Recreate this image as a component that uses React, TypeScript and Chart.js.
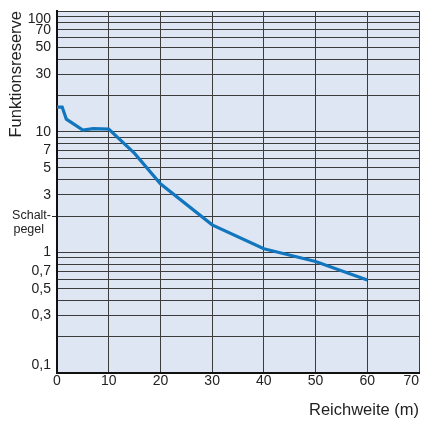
import React, { useEffect, useRef } from "react";
import { Chart, registerables } from "chart.js";

Chart.register(...registerables);

// Curve: Funktionsreserve over Reichweite (m)
const distanceM = [0, 1, 1.8, 5, 7, 10, 15, 20, 30, 40, 50, 60];
const functionReserve = [16, 16, 12.7, 10.3, 10.6, 10.5, 6.6, 3.7, 1.69, 1.07, 0.84, 0.59];

// x-axis ticks
const xTickValues = [0, 10, 20, 30, 40, 50, 60, 70];
const xTickLabels = ["0", "10", "20", "30", "40", "50", "60", "70    "];

// y-axis grid lines (log scale)
const yGridValues = [
  0.1, 0.2, 0.3, 0.4, 0.5, 0.6, 0.7, 0.8, 0.9,
  1, 2, 3, 4, 5, 6, 7, 8, 9,
  10, 20, 30, 40, 50, 60, 70, 80, 90, 100,
];

// y-axis labelled ticks
const yLabelValues = [100, 70, 50, 30, 10, 7, 5, 3, 2, 1, 0.7, 0.5, 0.3, 0.1];
const yLabelTexts: (string | string[])[] = [
  ["", "100"], "70", "50", "30", "10", "7", "5", "3",
  ["", "Schalt-", "pegel  "], "1", "0,7", "0,5", "0,3", ["0,1", ""],
];
const switchLevel = 2;

const near = (a: number, b: number) => Math.abs(a - b) < 1e-9 * Math.max(1, Math.abs(b));

const plotBackground = {
  id: "plotBackground",
  beforeDraw(chart: any) {
    const { ctx, chartArea } = chart;
    if (!chartArea) return;
    ctx.save();
    ctx.fillStyle = "#dfe6f3";
    ctx.fillRect(chartArea.left, chartArea.top, chartArea.right - chartArea.left, chartArea.bottom - chartArea.top);
    ctx.restore();
  },
};

const FONT = "'Liberation Sans', Arial, Helvetica, sans-serif";

export default function App() {
  const canvasRef = useRef<HTMLCanvasElement | null>(null);

  useEffect(() => {
    const canvas = canvasRef.current;
    if (!canvas) return;
    const chart = new Chart(canvas, {
      type: "line",
      data: {
        datasets: [
          {
            label: "Funktionsreserve",
            data: distanceM.map((x, i) => ({ x, y: functionReserve[i] })),
            borderColor: "#1276bf",
            borderWidth: 3.2,
            pointRadius: 0,
            tension: 0,
            fill: false,
          },
        ],
      },
      options: {
        animation: false,
        responsive: false,
        devicePixelRatio: 1,
        layout: { padding: { left: 0, top: 11, right: 3, bottom: 0 } },
        plugins: { legend: { display: false }, tooltip: { enabled: false } },
        scales: {
          x: {
            type: "linear",
            min: 0,
            max: 70,
            afterBuildTicks: (scale: any) => {
              scale.ticks = xTickValues.map((v) => ({ value: v }));
            },
            afterFit: (scale: any) => {
              scale.height = 53;
              scale.paddingLeft = 0;
              scale.paddingRight = 0;
            },
            grid: { color: "#3c3c3c", lineWidth: 1, drawTicks: false },
            border: { display: true, color: "#111", width: 2 },
            ticks: {
              autoSkip: false,
              maxRotation: 0,
              padding: 0,
              color: "#222",
              font: { family: FONT, size: 14 },
              callback: (value: any) => {
                const i = xTickValues.findIndex((v) => near(v, Number(value)));
                return i >= 0 ? xTickLabels[i] : "";
              },
            },
            title: {
              display: true,
              text: "Reichweite (m)",
              align: "end",
              color: "#222",
              font: { family: FONT, size: 16.5 },
              padding: { top: 0, bottom: 6 },
            },
          },
          y: {
            type: "logarithmic",
            min: 0.1,
            max: 100,
            afterBuildTicks: (scale: any) => {
              scale.ticks = yGridValues.map((v) => ({ value: v }));
            },
            afterFit: (scale: any) => {
              scale.width = 57;
              scale.paddingTop = 0;
              scale.paddingBottom = 0;
            },
            grid: {
              color: "#3c3c3c",
              lineWidth: 1,
              drawTicks: true,
              tickLength: 5,
              tickColor: (ctx: any) => (ctx.tick && near(ctx.tick.value, switchLevel) ? "#222" : "rgba(0,0,0,0)"),
            },
            border: { display: true, color: "#111", width: 2 },
            ticks: {
              autoSkip: false,
              padding: 1,
              color: "#222",
              font: (ctx: any) =>
                ctx.tick && near(ctx.tick.value, switchLevel)
                  ? { family: FONT, size: 12.5, lineHeight: 1.1 }
                  : { family: FONT, size: 14, lineHeight: 1.15 },
              callback: (value: any) => {
                const i = yLabelValues.findIndex((v) => near(v, Number(value)));
                return i >= 0 ? yLabelTexts[i] : "";
              },
            },
            title: {
              display: true,
              text: "Funktionsreserve",
              align: "end",
              color: "#222",
              font: { family: FONT, size: 16.5 },
              padding: { top: 7, bottom: 0 },
            },
          },
        },
      },
      plugins: [plotBackground],
    } as any);
    return () => chart.destroy();
  }, []);

  return (
    <div style={{ position: "fixed", left: 0, top: 0, width: 422, height: 426, background: "#fff" }}>
      <canvas ref={canvasRef} width={422} height={426} style={{ width: 422, height: 426, display: "block" }} />
    </div>
  );
}
